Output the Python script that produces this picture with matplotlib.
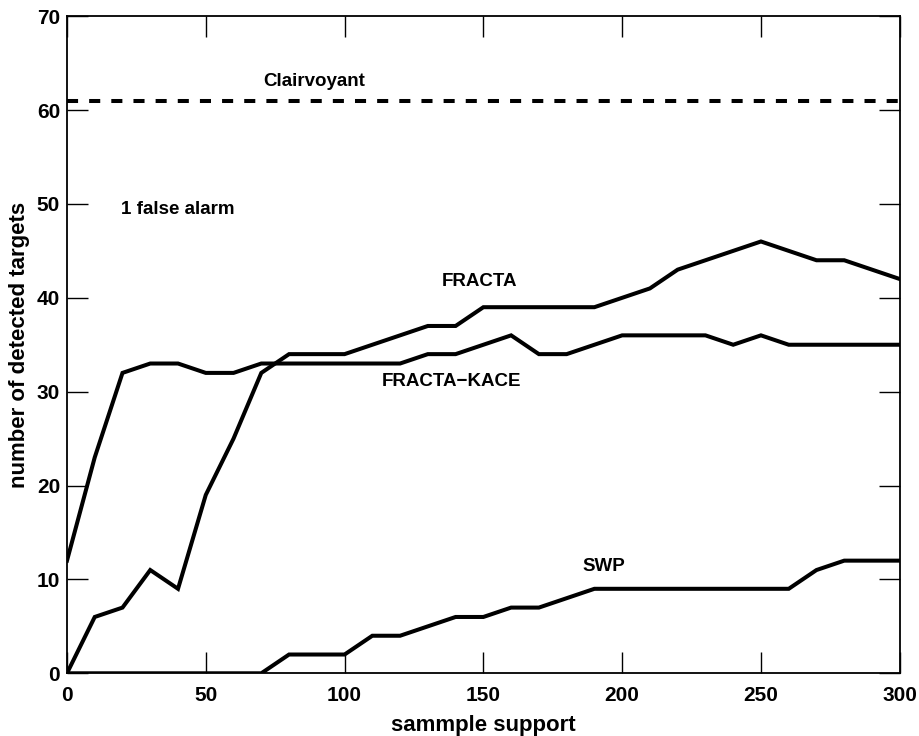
import matplotlib
matplotlib.use("Agg")
import matplotlib.pyplot as plt

plt.rcParams["font.family"] = ["Liberation Sans", "DejaVu Sans"]
plt.rcParams["font.weight"] = "bold"

support = list(range(0, 301, 10))

fracta_kace = [12, 23, 32, 33, 33, 32, 32, 33, 33, 33, 33, 33, 33, 34, 34, 35,
               36, 34, 34, 35, 36, 36, 36, 36, 35, 36, 35, 35, 35, 35, 35]
fracta = [0, 6, 7, 11, 9, 19, 25, 32, 34, 34, 34, 35, 36, 37, 37, 39,
          39, 39, 39, 39, 40, 41, 43, 44, 45, 46, 45, 44, 44, 43, 42]
swp = [0, 0, 0, 0, 0, 0, 0, 0, 2, 2, 2, 4, 4, 5, 6, 6,
       7, 7, 8, 9, 9, 9, 9, 9, 9, 9, 9, 11, 12, 12, 12]
clairvoyant = 61

fig = plt.figure(figsize=(9.2, 7.36), dpi=100)
ax = fig.add_axes([0.0728, 0.0852, 0.9052, 0.8928])

lw = 2.9
ax.plot(support, fracta_kace, color="black", lw=lw, solid_joinstyle="miter")
ax.plot(support, fracta, color="black", lw=lw, solid_joinstyle="miter")
ax.plot(support, swp, color="black", lw=lw, solid_joinstyle="miter")
ax.axhline(clairvoyant, color="black", lw=lw, dashes=(2.75, 2.75))

fs = 13.5
ax.text(89, 63.0, "Clairvoyant", ha="center", va="center", fontsize=fs, fontweight="bold")
ax.text(19.4, 49.4, "1 false alarm", ha="left", va="center", fontsize=fs, fontweight="bold")
ax.text(148.7, 41.7, "FRACTA", ha="center", va="center", fontsize=fs, fontweight="bold")
ax.text(138.6, 31.1, "FRACTA\u2212KACE", ha="center", va="center", fontsize=fs, fontweight="bold")
ax.text(193.4, 11.4, "SWP", ha="center", va="center", fontsize=fs, fontweight="bold")

ax.set_xlim(0, 300)
ax.set_ylim(0, 70)
ax.set_xticks(range(0, 301, 50))
ax.set_yticks(range(0, 71, 10))
ax.tick_params(direction="in", length=15, width=1.0, top=True, right=True,
               labelsize=15)
ax.tick_params(axis="x", pad=9.5)
ax.tick_params(axis="y", pad=5)
for lab in ax.get_xticklabels() + ax.get_yticklabels():
    lab.set_fontweight("bold")
for sp in ax.spines.values():
    sp.set_linewidth(1.3)

ax.set_xlabel("sammple support", fontsize=16, fontweight="bold", labelpad=7)
ax.set_ylabel("number of detected targets", fontsize=16, fontweight="bold", labelpad=5)

fig.savefig("out.png", dpi=100)
